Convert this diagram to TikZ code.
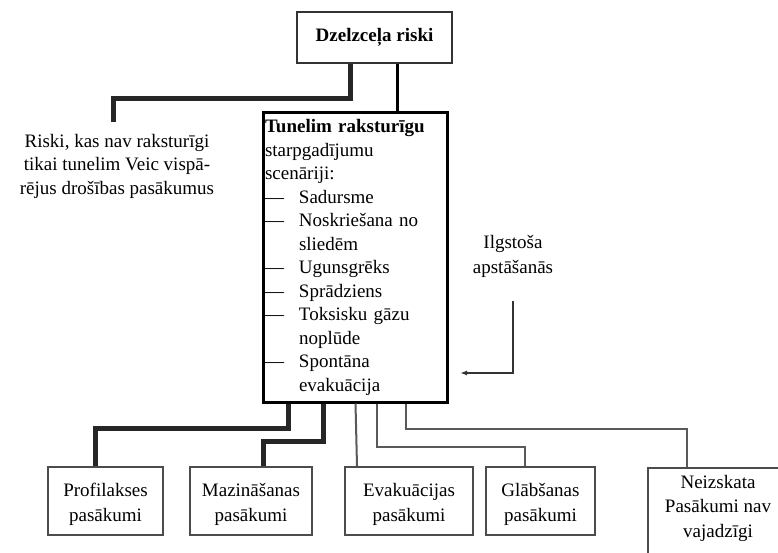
\documentclass[tikz,border=0pt]{standalone}
\usepackage{fontspec}
\setmainfont{Liberation Serif}
\usetikzlibrary{arrows.meta}

\newcommand{\scenitem}[1]{\makebox[34pt][l]{---}#1}
\newcommand{\scencont}[1]{\hspace*{34pt}#1}

\begin{document}
\begin{tikzpicture}[x=1pt, y=-1pt,
  every node/.style={font=\fontsize{19}{23.5}\selectfont},
  topbox/.style={draw=black!80, line width=2pt, minimum width=155pt, minimum height=51pt, font=\fontsize{19}{23.5}\selectfont\bfseries},
  mainbox/.style={draw=black, line width=3pt, align=left, text width=180pt, inner xsep=2pt, minimum width=184pt, minimum height=289pt},
  measbox/.style={draw=black!70, line width=2pt, align=center, minimum height=68pt, inner xsep=2pt, text height=46pt, font=\fontsize{19}{25}\selectfont},
  heavy/.style={line width=5pt, black!85},
  link/.style={line width=2pt, black!65},
  stoparrow/.style={line width=1.6pt, black!80, -{Latex[length=7pt,width=5pt]}}]
            \useasboundingbox (0,0) rectangle (778,553);
            \node[topbox] (risks) at (374.5,37.5) {Dzelzceļa riski};
            \node[align=center] (general) at (117,166) {Riski, kas nav raksturīgi\\tikai tunelim Veic vispā-\\rējus drošības pasākumus};
            \node[mainbox] (tunnel) at (355,257.5) {\textbf{Tunelim raksturīgu}\\
              starpgadījumu\\
              scenāriji:\\
              \scenitem{Sadursme}\\
              \scenitem{Noskriešana no}\\
              \scencont{sliedēm}\\
              \scenitem{Ugunsgrēks}\\
              \scenitem{Sprādziens}\\
              \scenitem{Toksisku gāzu}\\
              \scencont{noplūde}\\
              \scenitem{Spontāna}\\
              \scencont{evakuācija}};
            \node[align=center, font=\fontsize{19}{25}\selectfont] (halt) at (513,256) {Ilgstoša\\apstāšanās};
            \coordinate (haltend) at (460,373);

            \node[measbox, minimum width=115pt] (prof) at (105.5,501) {Profilakses\\pasākumi};
            \node[measbox, minimum width=122pt] (mitig) at (251,501) {Mazināšanas\\pasākumi};
            \node[measbox, minimum width=128pt] (evac) at (409,501) {Evakuācijas\\pasākumi};
            \node[measbox, minimum width=109pt] (rescue) at (540.5,501) {Glābšanas\\pasākumi};
            \node[measbox, minimum width=140pt, anchor=north, text height=66pt, text depth=40pt, font=\fontsize{19}{24.5}\selectfont] (none) at (718,467) {Neizskata\\Pasākumi nav\\vajadzīgi};

            % top level
            \draw[heavy] ([xshift=-24.5pt]risks.south) |- ++(-237,35) -- ([xshift=-4pt,yshift=8pt]general.north);
            \draw[line width=3pt] ([xshift=22.5pt]risks.south) -- ([xshift=22.5pt]risks.south |- tunnel.north);
            \draw[stoparrow] ([yshift=-20pt]halt.south) |- (haltend);

            % measures
            \draw[heavy] ([xshift=27pt]tunnel.south west) -- ++(0,25) -| ([xshift=-10pt]prof.north);
            \draw[heavy] ([xshift=62pt]tunnel.south west) -- ++(0,38) -| ([xshift=12pt]mitig.north);
            \draw[link] ([xshift=94pt]tunnel.south west) -- ([xshift=-52pt]evac.north);
            \draw[link] ([xshift=115pt]tunnel.south west) -- ++(0,43) -| ([xshift=-15.5pt]rescue.north);
            \draw[link] ([xshift=144pt]tunnel.south west) -- ++(0,25) -| ([xshift=-31pt]none.north);
        \end{tikzpicture}
\end{document}
